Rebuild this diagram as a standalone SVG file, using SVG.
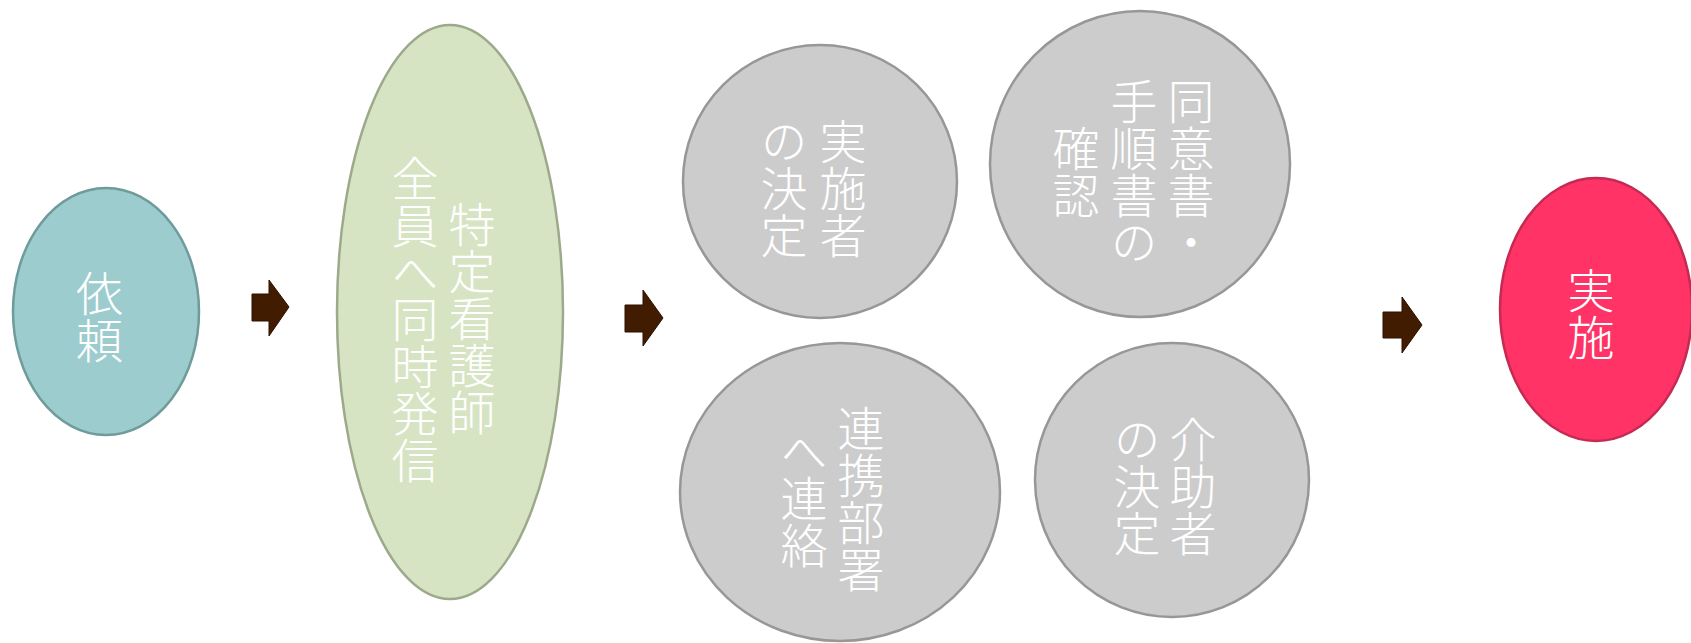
<svg xmlns="http://www.w3.org/2000/svg" width="1691" height="643" viewBox="0 0 1691 643">
<style>
  .lbl { font-family: "Noto Sans CJK JP", "Noto Sans CJK SC", sans-serif; font-size: 47px; font-weight: 300; fill: #ffffff; text-anchor: middle; writing-mode: vertical-rl; }
  .gray { fill: #CCCCCC; stroke: #979797; stroke-width: 2.5; }
  .arrow { fill: #421C00; stroke: #2A1100; stroke-width: 1; }
</style>
<rect width="1691" height="643" fill="#ffffff"/>
<g id="connectors">
  <path class="arrow" d="M252,294 H269 V280 L289,307 L269,336 V321 H252 Z"/>
  <path class="arrow" d="M625,305 H643 V290 L663,318 L643,346 V332 H625 Z"/>
  <path class="arrow" d="M1383,312 H1402 V297 L1422,325 L1402,353 V338 H1383 Z"/>
</g>
<g id="node-irai">
  <ellipse cx="106" cy="311.5" rx="93" ry="123.5" fill="#9CCCCD" stroke="#6F9B9B" stroke-width="2.5"/>
  <text class="lbl" x="99.5" y="317">依頼</text>
</g>
<g id="node-hasshin">
  <ellipse cx="450" cy="312" rx="113" ry="287" fill="#D7E4C3" stroke="#9CAA8B" stroke-width="2.5"/>
  <text class="lbl" x="472" y="318">特定看護師</text>
  <text class="lbl" x="415" y="319">全員へ同時発信</text>
</g>
<g id="node-jisshisha">
  <ellipse class="gray" cx="820" cy="181.5" rx="137" ry="136.5"/>
  <text class="lbl" x="843" y="188.5">実施者</text>
  <text class="lbl" x="784" y="188.5">の決定</text>
</g>
<g id="node-doisho">
  <ellipse class="gray" cx="1140" cy="164" rx="150" ry="153"/>
  <text class="lbl" x="1191" y="172">同意書・</text>
  <text class="lbl" x="1134" y="172">手順書の</text>
  <text class="lbl" x="1076" y="172">確認</text>
</g>
<g id="node-renraku">
  <ellipse class="gray" cx="840" cy="492" rx="160" ry="149"/>
  <text class="lbl" x="861" y="498.5">連携部署</text>
  <text class="lbl" x="804" y="498.5">へ連絡</text>
</g>
<g id="node-kaijosha">
  <ellipse class="gray" cx="1172" cy="480" rx="137" ry="137"/>
  <text class="lbl" x="1193" y="486">介助者</text>
  <text class="lbl" x="1137" y="486">の決定</text>
</g>
<g id="node-jisshi">
  <ellipse cx="1596" cy="309.5" rx="96" ry="131.5" fill="#FF3366" stroke="#C42A52" stroke-width="2.5"/>
  <text class="lbl" x="1591" y="314">実施</text>
</g>
</svg>
